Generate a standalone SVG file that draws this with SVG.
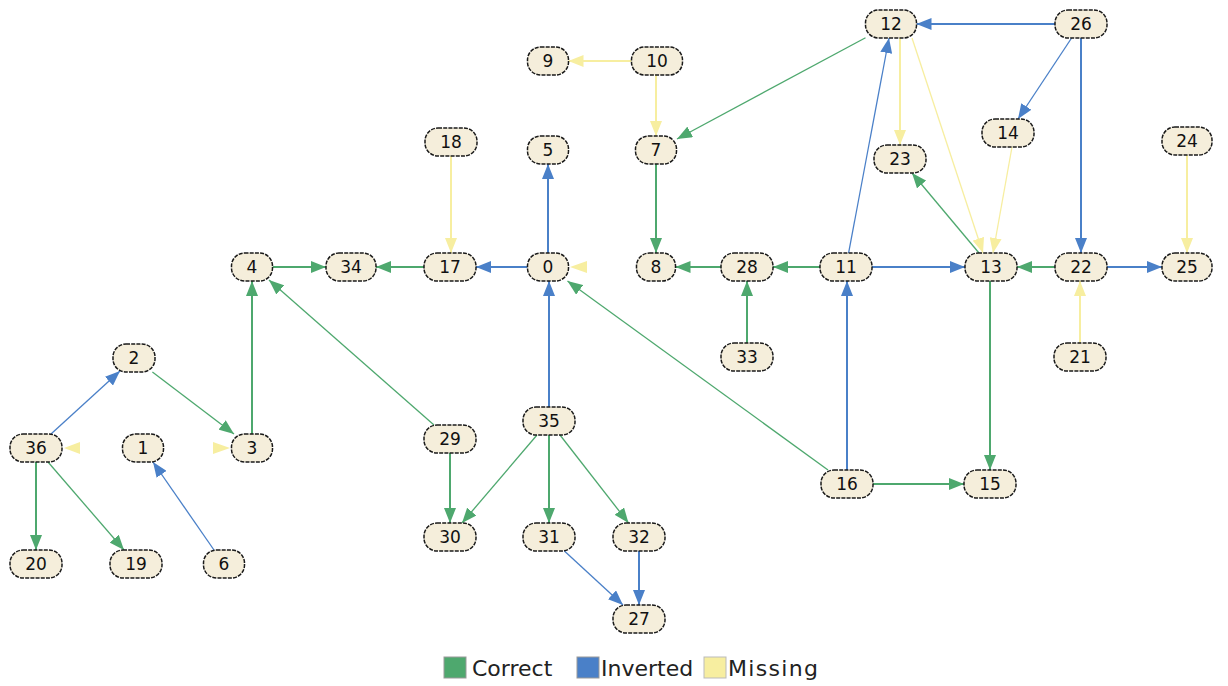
<svg xmlns="http://www.w3.org/2000/svg" width="1228" height="686" viewBox="0 0 1228 686">
<style>
.n rect{fill:#f5eedb;stroke:#1a1a1a;stroke-width:1.5;stroke-dasharray:4 1.2}
.n text{font-family:"DejaVu Sans","Liberation Sans",sans-serif;font-size:17px;fill:#111;text-anchor:middle;dominant-baseline:central}
.g{stroke:#4ea86e;fill:none}
.b{stroke:#4a80c8;fill:none}
.y{stroke:#f7eea0;fill:none}
.s{stroke-width:2}
.d{stroke-width:1.3}
.gm{marker-end:url(#ag)}
.bm{marker-end:url(#ab)}
.ym{marker-end:url(#ay)}
.leg{font-family:"DejaVu Sans","Liberation Sans",sans-serif;font-size:22px;fill:#222}
</style>
<defs>
<marker id="ag" markerUnits="userSpaceOnUse" viewBox="0 0 15 12" markerWidth="15" markerHeight="12" refX="15" refY="6" orient="auto"><path d="M0,0 L15,6 L0,12 Z" fill="#4ea86e"/></marker>
<marker id="ab" markerUnits="userSpaceOnUse" viewBox="0 0 15 12" markerWidth="15" markerHeight="12" refX="15" refY="6" orient="auto"><path d="M0,0 L15,6 L0,12 Z" fill="#4a80c8"/></marker>
<marker id="ay" markerUnits="userSpaceOnUse" viewBox="0 0 15 12" markerWidth="15" markerHeight="12" refX="15" refY="6" orient="auto"><path d="M0,0 L15,6 L0,12 Z" fill="#f7eea0"/></marker>
</defs>
<rect width="1228" height="686" fill="#fff"/>
<g id="connectors">
<!-- correct -->
<line class="g s gm" x1="272.5" y1="267" x2="326" y2="267"/>
<line class="g s gm" x1="424" y1="267" x2="376" y2="267"/>
<line class="g s gm" x1="252" y1="434" x2="252" y2="281"/>
<line class="g d gm" x1="434" y1="425" x2="269" y2="280"/>
<line class="g d gm" x1="152.4" y1="372" x2="234" y2="434"/>
<line class="g s gm" x1="36" y1="462" x2="36" y2="550"/>
<line class="g d gm" x1="48" y1="462" x2="124" y2="550"/>
<line class="g s gm" x1="656" y1="164" x2="656" y2="253"/>
<line class="g s gm" x1="721" y1="267" x2="675.5" y2="267"/>
<line class="g s gm" x1="820" y1="267" x2="773" y2="267"/>
<line class="g s gm" x1="747" y1="343" x2="747" y2="281"/>
<line class="g d gm" x1="865.5" y1="37.7" x2="677" y2="139"/>
<line class="g d gm" x1="979" y1="253" x2="912" y2="173"/>
<line class="g s gm" x1="1055" y1="267" x2="1017" y2="267"/>
<line class="g s gm" x1="990" y1="281" x2="990" y2="470"/>
<line class="g s gm" x1="873" y1="484" x2="964" y2="484"/>
<line class="g d gm" x1="828" y1="470" x2="567.5" y2="281"/>
<line class="g s gm" x1="450" y1="453" x2="450" y2="523"/>
<line class="g d gm" x1="537" y1="435" x2="462" y2="523"/>
<line class="g s gm" x1="549" y1="435" x2="549" y2="523"/>
<line class="g d gm" x1="560" y1="435" x2="628.5" y2="523"/>
<!-- inverted -->
<line class="b s bm" x1="548" y1="253" x2="548" y2="164"/>
<line class="b s bm" x1="527.5" y1="267" x2="476" y2="267"/>
<line class="b s bm" x1="549" y1="407" x2="549" y2="281"/>
<line class="b d bm" x1="51" y1="434" x2="120" y2="371"/>
<line class="b d bm" x1="214" y1="550" x2="153" y2="462"/>
<line class="b s bm" x1="1055" y1="24" x2="916.5" y2="24"/>
<line class="b d bm" x1="1071.6" y1="38" x2="1018" y2="119"/>
<line class="b s bm" x1="1081" y1="38" x2="1081" y2="253"/>
<line class="b d bm" x1="848.6" y1="253" x2="889" y2="38"/>
<line class="b s bm" x1="872" y1="267" x2="965" y2="267"/>
<line class="b s bm" x1="847" y1="470" x2="847" y2="281"/>
<line class="b s bm" x1="1107" y1="267" x2="1162" y2="267"/>
<line class="b d bm" x1="564.4" y1="551" x2="623" y2="605"/>
<line class="b s bm" x1="639" y1="551" x2="639" y2="605"/>
<!-- missing -->
<line class="y s ym" x1="631.5" y1="61" x2="568.5" y2="61"/>
<line class="y s ym" x1="656" y1="75" x2="656" y2="136"/>
<line class="y s ym" x1="451" y1="156" x2="451" y2="253"/>
<line class="y s ym" x1="900" y1="38" x2="900" y2="145"/>
<line class="y d ym" x1="912" y1="38" x2="983" y2="253"/>
<line class="y d ym" x1="1012" y1="147" x2="993" y2="253"/>
<line class="y s ym" x1="1187" y1="155" x2="1187" y2="253"/>
<line class="y s ym" x1="1080" y1="343" x2="1080" y2="281"/>
<path d="M570,267 L587,261 L587,273 Z" fill="#f7eea0"/>
<path d="M64,448 L80,442 L80,454 Z" fill="#f7eea0"/>
<path d="M230,448 L213,442 L213,454 Z" fill="#f7eea0"/>
</g>
<g id="n0" class="n"><rect x="527.5" y="253" width="41" height="28" rx="13"/><text x="548" y="267">0</text></g>
<g id="n1" class="n"><rect x="122.5" y="434" width="41" height="28" rx="13"/><text x="143" y="448">1</text></g>
<g id="n2" class="n"><rect x="113" y="344" width="42" height="28" rx="13"/><text x="134" y="358">2</text></g>
<g id="n3" class="n"><rect x="231.5" y="434" width="41" height="28" rx="13"/><text x="252" y="448">3</text></g>
<g id="n4" class="n"><rect x="231.5" y="253" width="41" height="28" rx="13"/><text x="252" y="267">4</text></g>
<g id="n5" class="n"><rect x="527.5" y="136" width="41" height="28" rx="13"/><text x="548" y="150">5</text></g>
<g id="n6" class="n"><rect x="203.5" y="550" width="41" height="28" rx="13"/><text x="224" y="564">6</text></g>
<g id="n7" class="n"><rect x="635.5" y="136" width="41" height="28" rx="13"/><text x="656" y="150">7</text></g>
<g id="n8" class="n"><rect x="636.5" y="253" width="39" height="28" rx="13"/><text x="656" y="267">8</text></g>
<g id="n9" class="n"><rect x="527.5" y="47" width="41" height="28" rx="13"/><text x="548" y="61">9</text></g>
<g id="n10" class="n"><rect x="631.5" y="47" width="51" height="28" rx="13"/><text x="657" y="61">10</text></g>
<g id="n11" class="n"><rect x="820" y="253" width="52" height="28" rx="13"/><text x="846" y="267">11</text></g>
<g id="n12" class="n"><rect x="865.5" y="10" width="51" height="28" rx="13"/><text x="891" y="24">12</text></g>
<g id="n13" class="n"><rect x="965" y="253" width="52" height="28" rx="13"/><text x="991" y="267">13</text></g>
<g id="n14" class="n"><rect x="982" y="119" width="52" height="28" rx="13"/><text x="1008" y="133">14</text></g>
<g id="n15" class="n"><rect x="964" y="470" width="52" height="28" rx="13"/><text x="990" y="484">15</text></g>
<g id="n16" class="n"><rect x="821" y="470" width="52" height="28" rx="13"/><text x="847" y="484">16</text></g>
<g id="n17" class="n"><rect x="424" y="253" width="52" height="28" rx="13"/><text x="450" y="267">17</text></g>
<g id="n18" class="n"><rect x="425" y="128" width="52" height="28" rx="13"/><text x="451" y="142">18</text></g>
<g id="n19" class="n"><rect x="110" y="550" width="52" height="28" rx="13"/><text x="136" y="564">19</text></g>
<g id="n20" class="n"><rect x="10" y="550" width="52" height="28" rx="13"/><text x="36" y="564">20</text></g>
<g id="n21" class="n"><rect x="1054" y="343" width="52" height="28" rx="13"/><text x="1080" y="357">21</text></g>
<g id="n22" class="n"><rect x="1055" y="253" width="52" height="28" rx="13"/><text x="1081" y="267">22</text></g>
<g id="n23" class="n"><rect x="874" y="145" width="52" height="28" rx="13"/><text x="900" y="159">23</text></g>
<g id="n24" class="n"><rect x="1162" y="127" width="50" height="28" rx="13"/><text x="1187" y="141">24</text></g>
<g id="n25" class="n"><rect x="1162" y="253" width="50" height="28" rx="13"/><text x="1187" y="267">25</text></g>
<g id="n26" class="n"><rect x="1055" y="10" width="52" height="28" rx="13"/><text x="1081" y="24">26</text></g>
<g id="n27" class="n"><rect x="613" y="605" width="52" height="28" rx="13"/><text x="639" y="619">27</text></g>
<g id="n28" class="n"><rect x="721" y="253" width="52" height="28" rx="13"/><text x="747" y="267">28</text></g>
<g id="n29" class="n"><rect x="424" y="425" width="52" height="28" rx="13"/><text x="450" y="439">29</text></g>
<g id="n30" class="n"><rect x="424" y="523" width="52" height="28" rx="13"/><text x="450" y="537">30</text></g>
<g id="n31" class="n"><rect x="523" y="523" width="52" height="28" rx="13"/><text x="549" y="537">31</text></g>
<g id="n32" class="n"><rect x="613" y="523" width="52" height="28" rx="13"/><text x="639" y="537">32</text></g>
<g id="n33" class="n"><rect x="721" y="343" width="52" height="28" rx="13"/><text x="747" y="357">33</text></g>
<g id="n34" class="n"><rect x="326" y="253" width="50" height="28" rx="13"/><text x="351" y="267">34</text></g>
<g id="n35" class="n"><rect x="523" y="407" width="52" height="28" rx="13"/><text x="549" y="421">35</text></g>
<g id="n36" class="n"><rect x="10" y="434" width="52" height="28" rx="13"/><text x="36" y="448">36</text></g>
<g id="legend">
<rect x="444" y="657" width="22" height="21" fill="#4ea86e" stroke="#999" stroke-width="1"/>
<text class="leg" x="472" y="676">Correct</text>
<rect x="577" y="657" width="22" height="21" fill="#4a80c8" stroke="#999" stroke-width="1"/>
<text class="leg" x="601" y="676">Inverted</text>
<rect x="704" y="657" width="22" height="21" fill="#f7eea0" stroke="#bbb" stroke-width="1"/>
<text class="leg" x="728" y="676" textLength="90">Missing</text>
</g>
</svg>
